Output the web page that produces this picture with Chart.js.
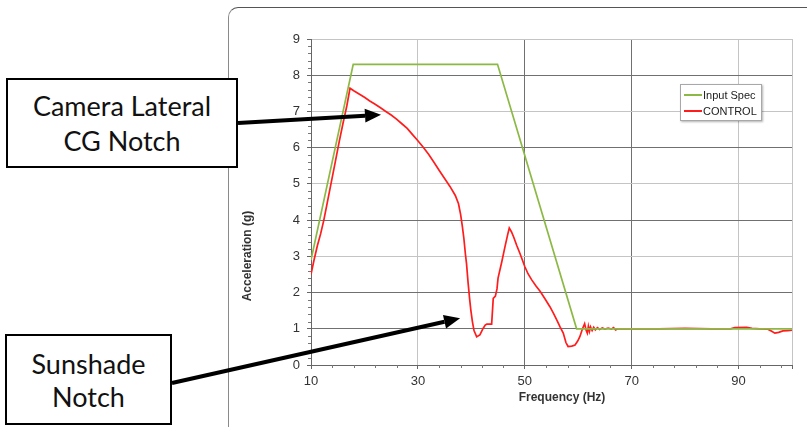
<!DOCTYPE html>
<html>
<head>
<meta charset="utf-8">
<script src="https://cdn.jsdelivr.net/npm/chart.js@4.4.1/dist/chart.umd.min.js"></script>
<style>
    html, body { margin: 0; padding: 0; background: #fff; }
    #wrap { position: relative; width: 807px; height: 427px; overflow: hidden; }
    #frame {
        position: absolute; left: 228px; top: 7px; width: 700px; height: 500px;
        border-top: 1px solid #555; border-left: 1px solid #8a8a8a;
        border-top-left-radius: 10px;
    }
    #chart { position: absolute; left: 0; top: 0; }
    .callout {
        position: absolute; box-sizing: border-box; border: 2px solid #000; background: #fff;
        display: flex; flex-direction: column; align-items: center; justify-content: center;
        font-family: Lato, "Open Sans", sans-serif; color: #111; text-align: center;
    }
    #legend {
        position: absolute; left: 680px; top: 84px; width: 82px; height: 37px; box-sizing: border-box;
        background: #fff; border: 1px solid #a8a8a8; box-shadow: 1px 1px 2px rgba(0,0,0,0.3);
        font: 11px "Liberation Sans", Arial, sans-serif; color: #222; padding: 2px 0 0 3px;
    }
    .lg-row { display: flex; align-items: center; height: 16px; }
    .lg-line { width: 18px; height: 2px; margin-right: 1px; }
</style>
</head>
<body>
<div id="wrap">
    <div id="frame"></div>
    <canvas id="chart" width="807" height="427"></canvas>
    <div class="callout" style="left:6px; top:78px; width:232px; height:90px; font-size:27px; line-height:35px;">
        <div>Camera Lateral</div><div>CG Notch</div>
    </div>
    <div class="callout" style="left:5px; top:334px; width:167px; height:91px; font-size:27px; line-height:33px;">
        <div>Sunshade</div><div>Notch</div>
    </div>
    <div id="legend"></div>
</div>
<script>
// Axis ranges and tick labels
const xTickValues = [10, 30, 50, 70, 90, 100];
const yTickValues = [0, 1, 2, 3, 4, 5, 6, 7, 8, 9];

// Input Spec (green)
const specFreq = [10, 17.9, 44.9, 59.7, 100];
const specAccel = [2.9, 8.3, 8.3, 1.0, 1.0];

// CONTROL (red)
const controlFreq = [
    10.0, 10.6, 11.2, 11.8, 12.4, 13.0, 13.8, 14.6, 15.3, 16.0, 16.7, 17.3,
    18.0, 19.0, 20.0, 21.0, 22.0, 23.0, 24.0, 25.0, 26.0, 27.0, 28.0, 29.0,
    30.0, 31.0, 32.0, 33.0, 34.0, 35.0, 36.0, 37.0, 37.6, 38.0, 38.3, 38.6,
    38.9, 39.1, 39.4, 39.7, 39.9, 40.2, 40.5, 41.0, 41.6, 42.2, 42.6, 42.9,
    43.8, 44.1, 44.5, 44.8, 45.0, 45.7, 46.3, 46.8, 47.1, 47.5, 47.9, 48.5,
    49.1, 50.0, 50.6, 51.3, 52.1, 52.9, 53.8, 54.7, 55.4, 56.0, 56.6, 57.2,
    57.7, 58.1, 58.8, 59.4, 59.9, 60.3, 60.8, 61.2, 61.5, 61.7, 61.9, 62.1,
    62.3, 62.6, 62.9, 63.2, 63.6, 64.0, 64.5, 65.0, 65.6, 66.2, 66.6, 67.0,
    67.4, 70.0, 75.0, 80.0, 85.0, 88.5, 89.3, 91.5, 92.5, 94.0, 95.5, 96.2,
    96.8, 97.5, 98.3, 99.2, 100.0
];
const controlAccel = [
    2.50, 2.92, 3.30, 3.62, 4.00, 4.45, 5.05, 5.65, 6.18, 6.68, 7.15, 7.64,
    7.57, 7.48, 7.39, 7.29, 7.20, 7.10, 7.00, 6.90, 6.79, 6.66, 6.53, 6.36,
    6.19, 6.01, 5.82, 5.60, 5.37, 5.15, 4.93, 4.68, 4.45, 4.15, 3.85, 3.50,
    3.05, 2.80, 2.26, 1.80, 1.52, 1.20, 0.95, 0.78, 0.83, 1.01, 1.10, 1.13,
    1.13, 1.84, 1.90, 2.10, 2.40, 2.85, 3.27, 3.60, 3.78, 3.68, 3.54, 3.30,
    3.08, 2.72, 2.52, 2.35, 2.18, 2.03, 1.82, 1.61, 1.42, 1.24, 1.05, 0.88,
    0.62, 0.51, 0.52, 0.55, 0.66, 0.78, 1.00, 1.14, 0.95, 0.88, 1.07, 0.93,
    1.05, 0.95, 1.04, 0.97, 1.03, 0.98, 1.02, 0.99, 1.02, 0.99, 1.03, 0.97,
    1.00, 1.00, 1.00, 1.01, 1.00, 1.00, 1.03, 1.04, 1.01, 1.00, 0.99, 0.93,
    0.88, 0.90, 0.94, 0.95, 0.96
];

const GREEN = '#8cb945';
const RED = '#ff1c1c';
const DARK_GRID = '#707070';
const LIGHT_GRID = '#c4c4c4';
const FONT = '"Liberation Sans", Arial, sans-serif';

const toPoints = (xs, ys) => xs.map((x, i) => ({ x, y: ys[i] }));

// Minor tick marks, axis titles and callout arrows
const decorations = {
    id: 'decorations',
    afterDraw(chart) {
        const { ctx, scales: { x, y } } = chart;
        ctx.save();

        // minor ticks
        ctx.strokeStyle = '#777';
        ctx.lineWidth = 1;
        ctx.beginPath();
        for (let k = 1; k * 4 + 10 < 100; k++) {
            const v = 10 + k * 4;
            if ((v - 10) % 20 === 0) continue;
            const px = Math.round(x.getPixelForValue(v)) + 0.5;
            ctx.moveTo(px, y.bottom);
            ctx.lineTo(px, y.bottom + 3);
        }
        for (let k = 1; k < 45; k++) {
            if (k % 5 === 0) continue;
            const py = Math.round(y.getPixelForValue(k / 5)) + 0.5;
            ctx.moveTo(x.left - 3, py);
            ctx.lineTo(x.left, py);
        }
        ctx.stroke();

        // axis titles
        ctx.fillStyle = '#333';
        ctx.font = 'bold 12px ' + FONT;
        ctx.textAlign = 'center';
        ctx.textBaseline = 'middle';
        ctx.fillText('Frequency (Hz)', 562, 398);
        ctx.translate(248, 256);
        ctx.rotate(-Math.PI / 2);
        ctx.fillText('Acceleration (g)', 0, 0);
        ctx.setTransform(1, 0, 0, 1, 0, 0);

        // callout arrows
        const arrow = (x0, y0, x1, y1) => {
            const ang = Math.atan2(y1 - y0, x1 - x0);
            const head = 16, half = 7;
            const bx = x1 - head * Math.cos(ang), by = y1 - head * Math.sin(ang);
            ctx.strokeStyle = '#000';
            ctx.lineWidth = 4;
            ctx.beginPath();
            ctx.moveTo(x0, y0);
            ctx.lineTo(bx, by);
            ctx.stroke();
            ctx.fillStyle = '#000';
            ctx.beginPath();
            ctx.moveTo(x1, y1);
            ctx.lineTo(bx + half * Math.sin(ang), by - half * Math.cos(ang));
            ctx.lineTo(bx - half * Math.sin(ang), by + half * Math.cos(ang));
            ctx.closePath();
            ctx.fill();
        };
        arrow(238, 123, x.getPixelForValue(23.1), y.getPixelForValue(6.91));
        arrow(172, 383, x.getPixelForValue(37.9), y.getPixelForValue(1.29));

        ctx.restore();
    }
};

const chart = new Chart(document.getElementById('chart'), {
    type: 'line',
    data: {
        datasets: [
            {
                label: 'Input Spec',
                data: toPoints(specFreq, specAccel),
                borderColor: GREEN,
                borderWidth: 1.7
            },
            {
                label: 'CONTROL',
                data: toPoints(controlFreq, controlAccel),
                borderColor: RED,
                borderWidth: 1.7
            }
        ]
    },
    options: {
        responsive: false,
        animation: false,
        devicePixelRatio: 1,
        layout: { padding: { top: 39, right: 15, left: 0, bottom: 0 } },
        elements: { point: { radius: 0 }, line: { tension: 0, fill: false } },
        plugins: { legend: { display: false }, tooltip: { enabled: false } },
        scales: {
            x: {
                type: 'linear',
                min: 10,
                max: 100,
                afterBuildTicks: scale => { scale.ticks = xTickValues.map(value => ({ value })); },
                afterFit: scale => { scale.height = 62; },
                border: { color: '#666', width: 1 },
                grid: {
                    color: c => [50, 70].includes(c.tick.value) ? DARK_GRID : LIGHT_GRID,
                    tickColor: '#666',
                    tickLength: 4
                },
                ticks: {
                    autoSkip: false,
                    maxRotation: 0,
                    padding: 5,
                    color: '#333',
                    font: { family: FONT, size: 13 },
                    callback: v => v === 100 ? '' : v
                }
            },
            y: {
                min: 0,
                max: 9,
                afterBuildTicks: scale => { scale.ticks = yTickValues.map(value => ({ value })); },
                afterFit: scale => { scale.width = 311; },
                border: { color: '#666', width: 1 },
                grid: {
                    color: c => [1, 2, 4, 6, 8].includes(c.tick.value) ? DARK_GRID : LIGHT_GRID,
                    tickColor: '#666',
                    tickLength: 4
                },
                ticks: {
                    padding: 7,
                    color: '#333',
                    font: { family: FONT, size: 13 }
                }
            }
        }
    },
    plugins: [decorations]
});

// HTML legend built from the datasets
document.getElementById('legend').innerHTML = chart.data.datasets.map(ds =>
    `<div class="lg-row"><span class="lg-line" style="background:${ds.borderColor}"></span>${ds.label}</div>`
).join('');
</script>
</body>
</html>
